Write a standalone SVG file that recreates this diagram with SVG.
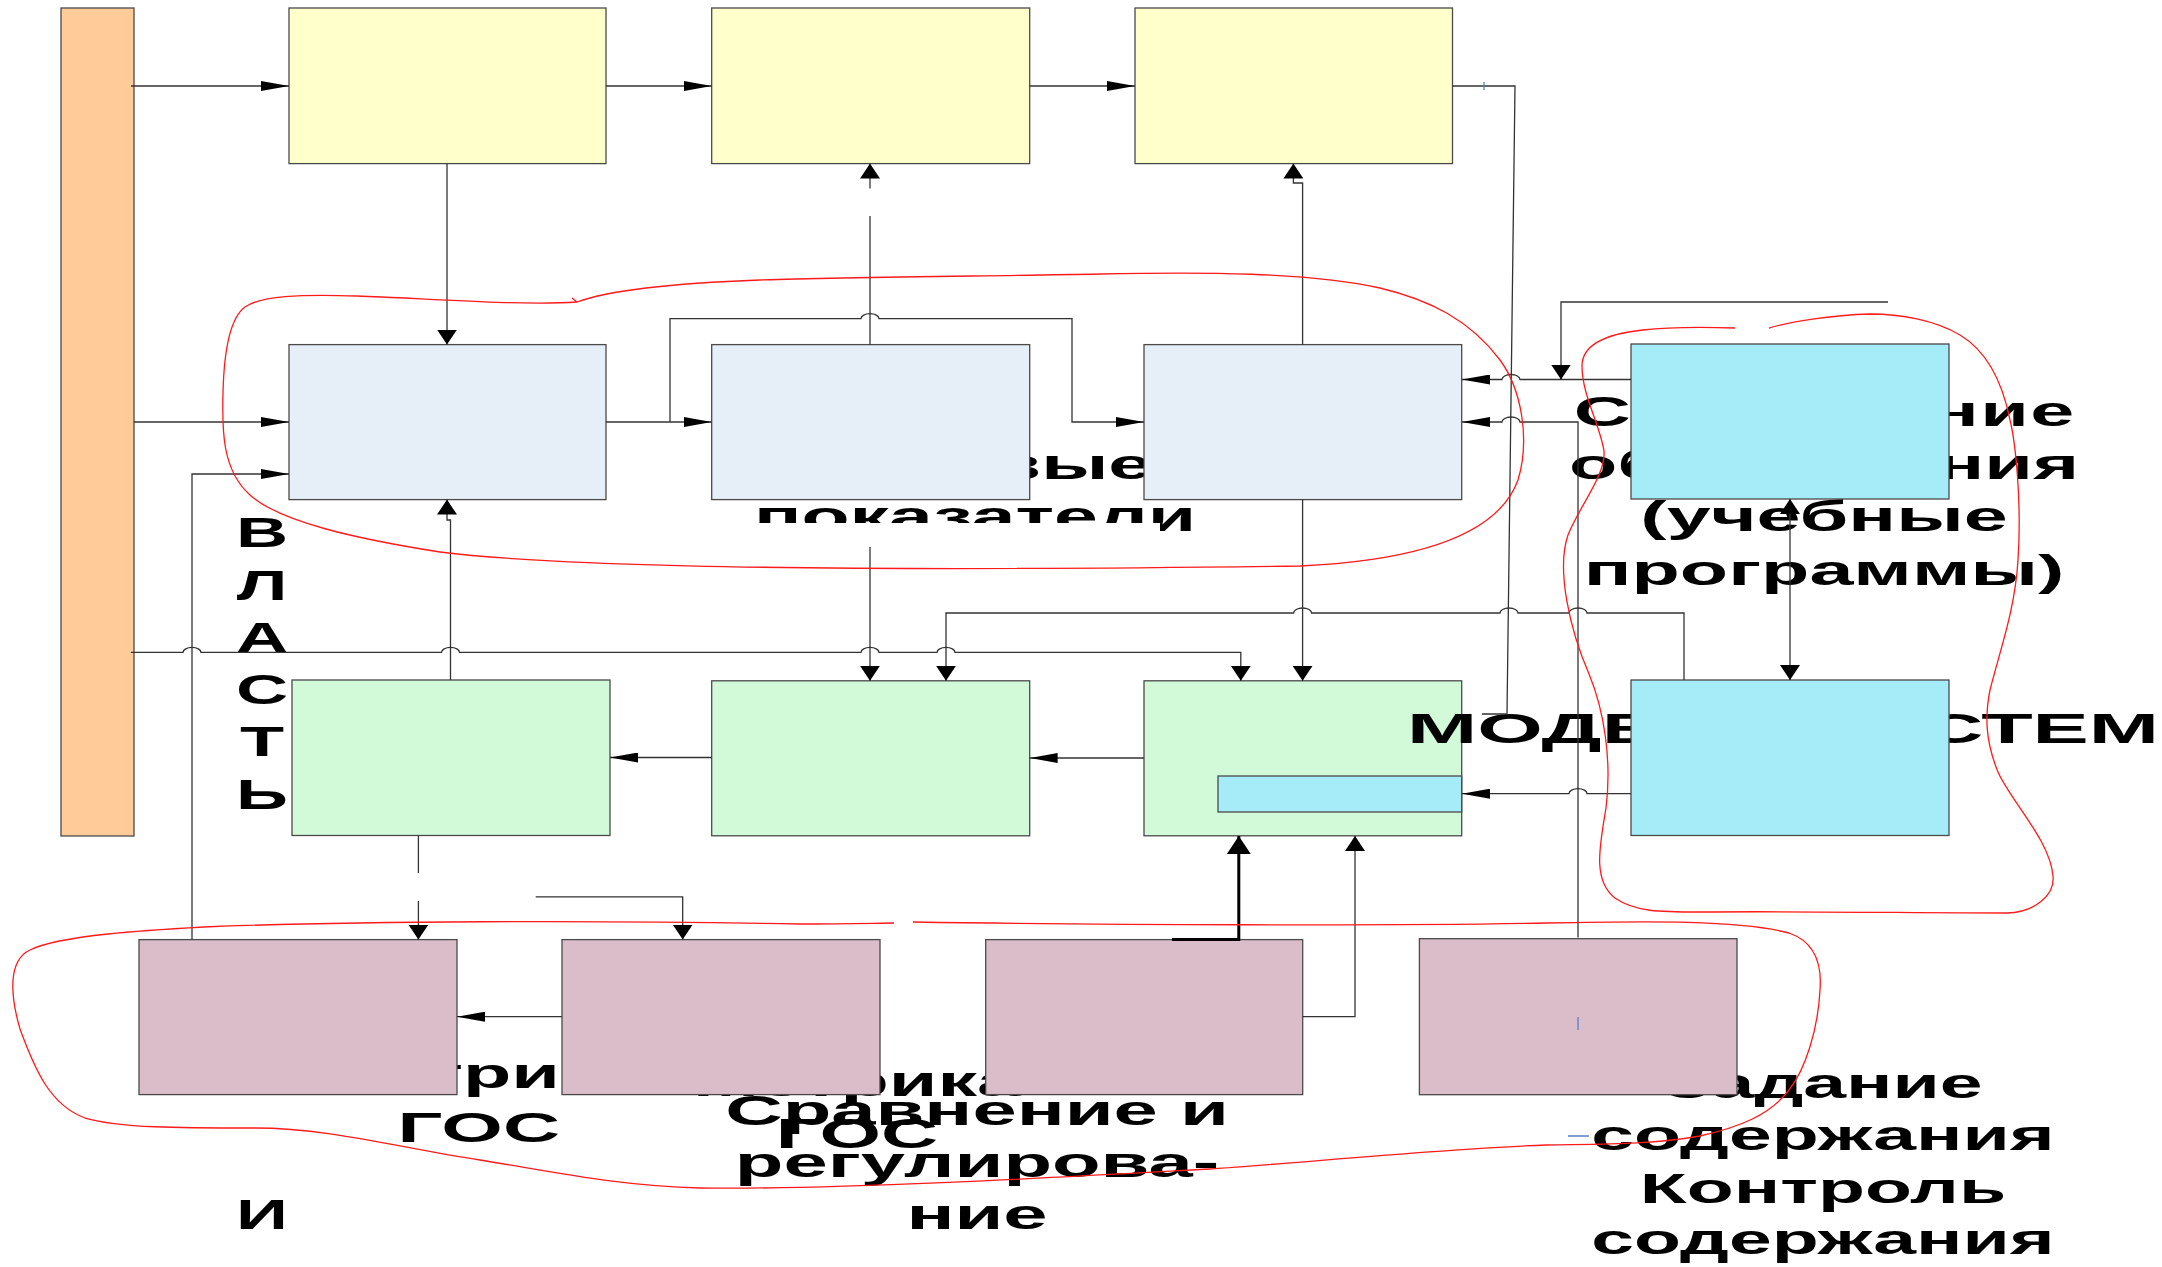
<svg xmlns="http://www.w3.org/2000/svg" width="2162" height="1267" viewBox="0 0 2162 1267">
<style>
.box{stroke:#4a4a4a;stroke-width:1.3}
.or{fill:#FFCC99}.ye{fill:#FFFFCC}.bl{fill:#E6EEF8}.cy{fill:#A6ECF8}.gr{fill:#D2FAD9}.mv{fill:#DABDC8}
.c{fill:none;stroke:#333;stroke-width:1.3}
.lbl{font-family:"Liberation Sans",Arial,sans-serif;font-size:43px;font-weight:bold;fill:#000}
.red{fill:none;stroke:#ff1a1a;stroke-width:1.3}
.tick{stroke:#5b7fc7;stroke-width:1.3;fill:none}
</style>
<defs>
<marker id="ah" markerWidth="28" markerHeight="10" refX="28" refY="5" orient="auto" markerUnits="userSpaceOnUse"><path d="M0,0 L28,5 L0,10 z" fill="#000"/></marker>
<marker id="av" markerWidth="15" markerHeight="20" refX="15" refY="10" orient="auto-start-reverse" markerUnits="userSpaceOnUse"><path d="M0,0 L15,10 L0,20 z" fill="#000"/></marker>
<marker id="avb" markerWidth="18" markerHeight="24" refX="18" refY="12" orient="auto" markerUnits="userSpaceOnUse"><path d="M0,0 L18,12 L0,24 z" fill="#000"/></marker>
<clipPath id="clipT" clipPathUnits="userSpaceOnUse"><rect x="0" y="0" width="2162" height="523"/><rect x="1160" y="0" width="1002" height="1267"/></clipPath>
</defs>
<rect width="2162" height="1267" fill="#fff"/>

<g id="labels" class="lbl">
<text transform="translate(262,0) scale(1.68,1)" text-anchor="middle"><tspan x="0" y="547">В</tspan><tspan x="0" y="600">Л</tspan><tspan x="0" y="652">А</tspan><tspan x="0" y="704">С</tspan><tspan x="0" y="756">Т</tspan><tspan x="0" y="809">Ь</tspan><tspan x="0" y="1229">И</tspan></text>
<g clip-path="url(#clipT)"><text transform="translate(975,0) scale(1.83,1)" text-anchor="middle"><tspan x="0" y="479">Целевые</tspan><tspan x="0" y="531">показатели</tspan></text></g>
<text transform="translate(1824,0) scale(1.84,1)" text-anchor="middle"><tspan x="0" y="426" textLength="272">Содержание</tspan><tspan x="0" y="479">образования</tspan><tspan x="0" y="531">(учебные</tspan><tspan x="0" y="585">программы)</tspan></text>
<text transform="translate(560,0) scale(1.84,1)" text-anchor="end"><tspan x="0" y="1088">три</tspan><tspan x="0" y="1142">ГОС</tspan></text>
<text transform="translate(857,0) scale(1.84,1)" text-anchor="middle"><tspan x="0" y="1096">Метрика</tspan><tspan x="0" y="1148">ГОС</tspan></text>
<text transform="translate(977,0) scale(1.85,1)" text-anchor="middle"><tspan x="0" y="1125">Сравнение и</tspan><tspan x="0" y="1177">регулирова-</tspan><tspan x="0" y="1229">ние</tspan></text>
<text transform="translate(1823,0) scale(1.79,1)" text-anchor="middle"><tspan x="0" y="1098">Задание</tspan><tspan x="0" y="1150">содержания</tspan><tspan x="0" y="1203">Контроль</tspan><tspan x="0" y="1254">содержания</tspan></text>
</g>

<g id="n-vlast"><rect class="box or" x="61" y="8" width="73" height="828"/></g>
<g id="n-y1"><rect class="box ye" x="289" y="8" width="317" height="155.6"/></g>
<g id="n-y2"><rect class="box ye" x="711.7" y="8" width="318" height="155.6"/></g>
<g id="n-y3"><rect class="box ye" x="1135" y="8" width="317.5" height="155.6"/></g>
<g id="n-b1"><rect class="box bl" x="289" y="344.6" width="317" height="155"/></g>
<g id="n-b2"><rect class="box bl" x="711.7" y="344.6" width="318" height="155"/></g>
<g id="n-b3"><rect class="box bl" x="1144" y="344.6" width="317.7" height="155"/></g>
<g id="n-c1"><rect class="box cy" x="1631" y="344" width="318" height="155"/></g>
<g id="n-g1"><rect class="box gr" x="292" y="680" width="318" height="155.5"/></g>
<g id="n-g2"><rect class="box gr" x="711.7" y="680.8" width="318" height="155"/></g>
<g id="n-g3"><rect class="box gr" x="1144" y="680.8" width="317.7" height="155"/><rect class="box cy" x="1218" y="776" width="243.7" height="36"/></g>
<g id="label-model" class="lbl"><text transform="translate(1407,0) scale(1.96,1)" x="0" y="743">МОДЕЛЬ СИСТЕМЫ</text></g>
<g id="n-c2"><rect class="box cy" x="1631" y="680" width="318" height="155.5"/></g>
<g id="n-m1"><rect class="box mv" x="139" y="939.6" width="318" height="155"/></g>
<g id="n-m2"><rect class="box mv" x="562" y="939.6" width="318" height="155"/></g>
<g id="n-m3"><rect class="box mv" x="985.7" y="939.6" width="317" height="155"/></g>
<g id="n-m4"><rect class="box mv" x="1419.4" y="938.7" width="317.6" height="156"/></g>

<g id="connectors">
<path class="c" d="M131,86 H289" marker-end="url(#ah)"/>
<path class="c" d="M606,86 H711.7" marker-end="url(#ah)"/>
<path class="c" d="M1029.6,86 H1135" marker-end="url(#ah)"/>
<path class="c" d="M1452.5,86 H1515 L1507,714 H1482"/>
<path class="c" d="M447,163.6 V344.6" marker-end="url(#av)"/>
<path class="c" d="M134,422 H289" marker-end="url(#ah)"/>
<path class="c" d="M606,422 H711.7" marker-end="url(#ah)"/>
<path class="c" d="M670,422 V318.6 H861 a9,5 0 0 1 18,0 H1072 V422 H1144" marker-end="url(#ah)"/>
<path class="c" d="M870,344.6 V216"/>
<path class="c" d="M870,188.6 V163.6" marker-end="url(#av)"/>
<path class="c" d="M1302.6,344.6 V183 H1293.4 V163.6" marker-end="url(#av)"/>
<path class="c" d="M1631,379.5 H1520 a9,5 0 0 0 -18,0 H1462" marker-end="url(#ah)"/>
<path class="c" d="M1888,302 H1561 V379.5" marker-end="url(#av)"/>
<path class="c" d="M1578,937.5 V422 H1520 a9,5 0 0 0 -18,0 H1462" marker-end="url(#ah)"/>
<path class="c" d="M1790,499 V680" marker-start="url(#av)" marker-end="url(#av)"/>
<path class="c" d="M1684,680 V613 H1587 a9,5 0 0 0 -18,0 H1518 a9,5 0 0 0 -18,0 H1311.6 a9,5 0 0 0 -18,0 H946 V680.8" marker-end="url(#av)"/>
<path class="c" d="M131,652.4 H183 a9,5 0 0 1 18,0 H441.5 a9,5 0 0 1 18,0 H861 a9,5 0 0 1 18,0 H937 a9,5 0 0 1 18,0 H1240.8 V680.8" marker-end="url(#av)"/>
<path class="c" d="M1302.6,499.6 V680.8" marker-end="url(#av)"/>
<path class="c" d="M870,547 V680.8" marker-end="url(#av)"/>
<path class="c" d="M1144,758 H1029.6" marker-end="url(#ah)"/>
<path class="c" d="M711.7,757.5 H610" marker-end="url(#ah)"/>
<path class="c" d="M1631,793.7 H1587 a9,5 0 0 0 -18,0 H1462" marker-end="url(#ah)"/>
<path class="c" d="M450.5,680 V520 H447 V499.6" marker-end="url(#av)"/>
<path class="c" d="M192,939.6 V474 H289" marker-end="url(#ah)"/>
<path class="c" d="M418.4,835.5 V873"/>
<path class="c" d="M418.4,901 V939.6" marker-end="url(#av)"/>
<path class="c" d="M535.7,896.8 H682.7 V939.6" marker-end="url(#av)"/>
<path class="c" d="M562,1016.7 H457" marker-end="url(#ah)"/>
<path class="c" d="M1172,939.6 H1238.8 V836" style="stroke:#000;stroke-width:3" marker-end="url(#avb)"/>
<path class="c" d="M1302.6,1016.7 H1355 V836" marker-end="url(#av)"/>
<path class="tick" d="M1484,82 V90 M1578,1017 V1030 M1568,1136 H1589"/>
</g>

<g id="outlines">
<path class="red" d="M577,302 C520,306 420,298 357,296 C300,294 260,296 245,307 C230,318 224,350 223,393 C222,430 222,470 250,495 C280,522 357,539 440,552 C600,572 1000,570 1300,566 C1430,560 1500,530 1518,480 C1530,440 1522,390 1500,360 C1470,320 1430,300 1380,288 C1310,272 1200,272 1100,274 C1000,276 850,277 760,280 C680,283 610,290 577,302 l-5,-4"/>
<path class="red" d="M1735,328 C1700,327 1660,328 1643,330 C1605,334 1582,345 1582,366 C1582,395 1600,425 1604,451 C1606,475 1580,505 1568,535 C1556,570 1570,630 1589,674 C1604,710 1612,760 1606,808 C1600,845 1592,880 1615,898 C1635,912 1660,912 1700,912 C1800,911 1920,913 2007,913 C2035,912 2055,895 2053,876 C2050,840 2010,800 1998,772 C1985,740 1985,715 1990,690 C2000,650 2015,610 2018,560 C2022,500 2015,440 2010,420 C2002,380 1985,350 1960,335 C1935,320 1900,314 1870,314 C1830,315 1790,322 1769,328"/>
<path class="red" d="M913,922 C1100,925 1400,926 1546,923 C1650,921 1740,920 1789,933 C1815,942 1822,965 1820,990 C1818,1030 1805,1070 1789,1090 C1770,1115 1740,1127 1700,1136 C1650,1145 1600,1144 1546,1145 C1450,1148 1300,1163 1210,1169 C1100,1175 850,1190 700,1188 C620,1186 560,1173 480,1160 C400,1148 330,1128 255,1128 C180,1128 120,1128 85,1118 C50,1105 35,1070 20,1029 C10,995 8,960 30,950 C60,935 150,930 204,927 C350,921 600,920 800,924 C850,924 880,923 894,923"/>
</g>
</svg>
